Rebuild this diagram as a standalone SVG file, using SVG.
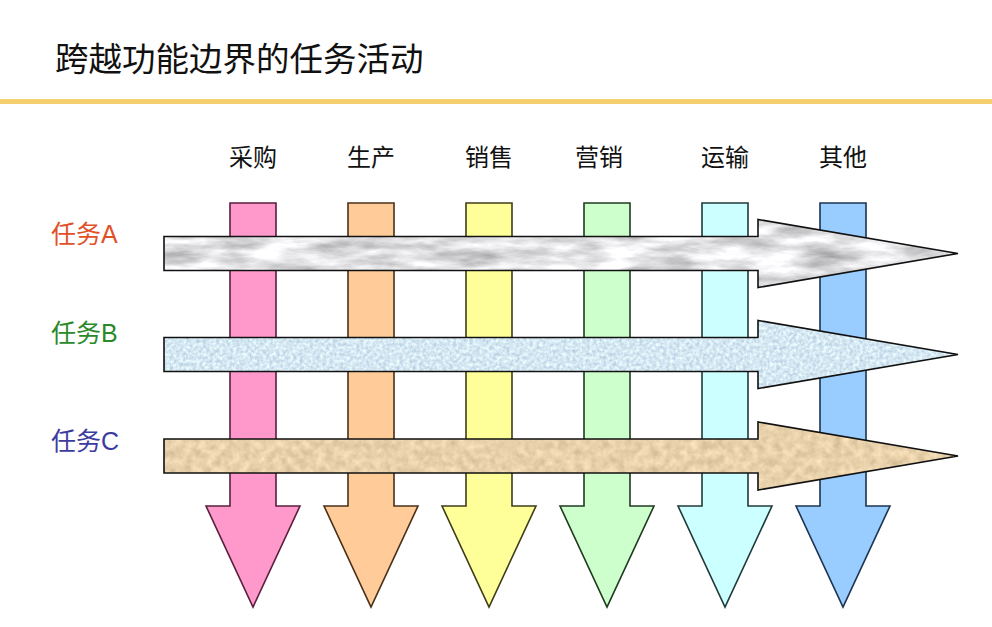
<svg xmlns="http://www.w3.org/2000/svg" width="992" height="627" viewBox="0 0 992 627">
<defs>
<style>
.title{font-family:"Liberation Serif","Noto Sans CJK SC",serif;font-size:33.5px;fill:#111}
.col{font-family:"Liberation Sans","Noto Sans CJK SC",sans-serif;font-size:24px;fill:#111;text-anchor:middle}
.task{font-family:"Liberation Sans","Noto Sans CJK SC",sans-serif;font-size:25px}
.vs{stroke-width:1.6;stroke-linejoin:miter}
.ho{fill:none;stroke:#111;stroke-width:1.6}
</style>
<filter id="marble" x="-2%" y="-10%" width="104%" height="120%" color-interpolation-filters="sRGB">
<feTurbulence type="fractalNoise" baseFrequency="0.02 0.08" numOctaves="5" seed="7" result="t"/>
<feColorMatrix in="t" type="matrix" values="0.6 0 0 0 0.58  0.6 0 0 0 0.58  0.6 0 0 0 0.59  0 0 0 0 1" result="c"/>
<feComposite in="c" in2="SourceGraphic" operator="in"/>
</filter>
<filter id="tissue" x="-2%" y="-10%" width="104%" height="120%" color-interpolation-filters="sRGB">
<feTurbulence type="fractalNoise" baseFrequency="0.3" numOctaves="3" seed="2" result="t"/>
<feColorMatrix in="t" type="matrix" values="0.35 0 0 0 0.66  0.3 0 0 0 0.76  0.2 0 0 0 0.85  0 0 0 0 1" result="c"/>
<feComposite in="c" in2="SourceGraphic" operator="in"/>
</filter>
<filter id="sand" x="-2%" y="-10%" width="104%" height="120%" color-interpolation-filters="sRGB">
<feTurbulence type="fractalNoise" baseFrequency="0.12" numOctaves="4" seed="5" result="t"/>
<feColorMatrix in="t" type="matrix" values="0.22 0 0 0 0.8  0.22 0 0 0 0.71  0.22 0 0 0 0.56  0 0 0 0 1" result="c"/>
<feComposite in="c" in2="SourceGraphic" operator="in"/>
</filter>
</defs>
<rect width="992" height="627" fill="#fff"/>
<text class="title" x="55" y="71">跨越功能边界的任务活动</text>
<rect x="0" y="99" width="992" height="5" fill="#F4CF6E"/>

<g id="col-caigou">
<text class="col" x="253" y="166">采购</text>
<polygon class="vs" points="230,203 276,203 276,506 300,506 253,607 206,506 230,506" fill="#FF99CC" stroke="#5a1f3c"/>
</g>
<g id="col-shengchan">
<text class="col" x="371" y="166">生产</text>
<polygon class="vs" points="348,203 394,203 394,506 418,506 371,607 324,506 348,506" fill="#FFCC99" stroke="#4a3018"/>
</g>
<g id="col-xiaoshou">
<text class="col" x="489" y="166">销售</text>
<polygon class="vs" points="466,203 512,203 512,506 536,506 489,607 442,506 466,506" fill="#FFFF99" stroke="#3e3e18"/>
</g>
<g id="col-yingxiao">
<text class="col" x="599" y="166">营销</text>
<polygon class="vs" points="584,203 630,203 630,506 654,506 607,607 560,506 584,506" fill="#CCFFCC" stroke="#203a20"/>
</g>
<g id="col-yunshu">
<text class="col" x="725" y="166">运输</text>
<polygon class="vs" points="702,203 748,203 748,506 772,506 725,607 678,506 702,506" fill="#CCFFFF" stroke="#203a3a"/>
</g>
<g id="col-qita">
<text class="col" x="843" y="166">其他</text>
<polygon class="vs" points="820,203 866,203 866,506 890,506 843,607 796,506 820,506" fill="#99CCFF" stroke="#1c3450"/>
</g>

<g id="task-a">
<text class="task" x="51" y="243" fill="#E0512A">任务A</text>
<polygon points="164,236.5 758,236.5 758,219.5 958,253.5 758,287.5 758,270.5 164,270.5" fill="#ddd" filter="url(#marble)"/>
<polygon class="ho" points="164,236.5 758,236.5 758,219.5 958,253.5 758,287.5 758,270.5 164,270.5"/>
</g>
<g id="task-b">
<text class="task" x="51" y="342" fill="#2A8A2A">任务B</text>
<polygon points="164,337.5 758,337.5 758,320.5 958,354.5 758,388.5 758,371.5 164,371.5" fill="#ddd" filter="url(#tissue)"/>
<polygon class="ho" points="164,337.5 758,337.5 758,320.5 958,354.5 758,388.5 758,371.5 164,371.5"/>
</g>
<g id="task-c">
<text class="task" x="51" y="450" fill="#3C3C9E">任务C</text>
<polygon points="164,439 758,439 758,422 958,456 758,490 758,473 164,473" fill="#ddd" filter="url(#sand)"/>
<polygon class="ho" points="164,439 758,439 758,422 958,456 758,490 758,473 164,473"/>
</g>
</svg>
